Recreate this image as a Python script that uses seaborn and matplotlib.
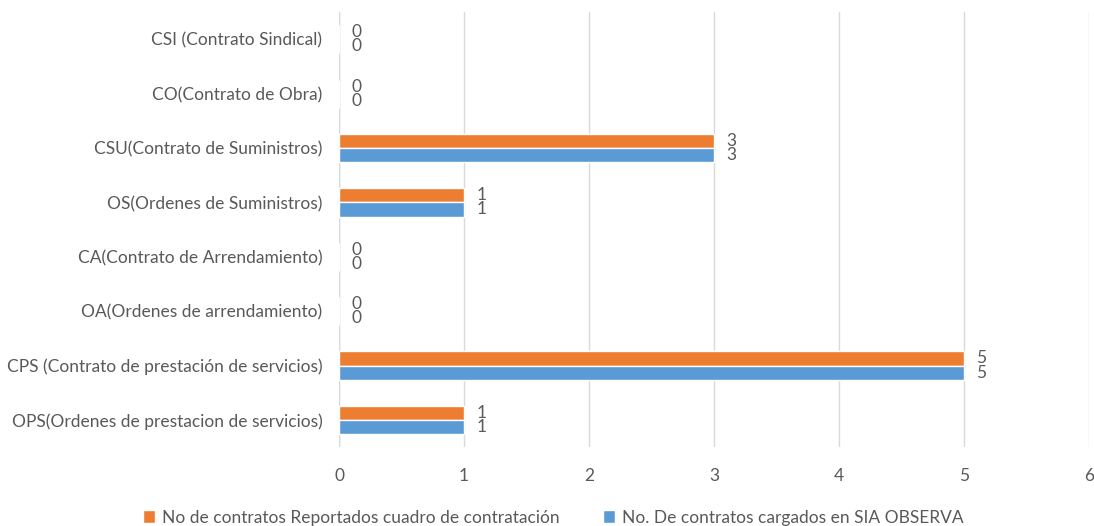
import pandas as pd
import matplotlib.pyplot as plt
import seaborn as sns

# Datos
categorias = [
    "CSI (Contrato Sindical)",
    "CO(Contrato de Obra)",
    "CSU(Contrato de Suministros)",
    "OS(Ordenes de Suministros)",
    "CA(Contrato de Arrendamiento)",
    "OA(Ordenes de arrendamiento)",
    "CPS (Contrato de prestación de servicios)",
    "OPS(Ordenes de prestacion de servicios)",
]
reportados = [0, 0, 3, 1, 0, 0, 5, 1]
cargados_sia = [0, 0, 3, 1, 0, 0, 5, 1]

serie_rep = "No de contratos Reportados cuadro de contratación"
serie_sia = "No. De contratos cargados en SIA OBSERVA"

df = pd.DataFrame({
    "categoria": categorias * 2,
    "valor": reportados + cargados_sia,
    "serie": [serie_rep] * len(categorias) + [serie_sia] * len(categorias),
})

sns.set_style("white")
plt.rcParams["font.family"] = ["Lato", "DejaVu Sans"]
gris = "#595959"
fs = 12.5

fig = plt.figure(figsize=(10.94, 5.26), dpi=100)
ax = fig.add_axes([0.31, 0.150, 0.6854, 0.827])

sns.barplot(data=df, y="categoria", x="valor", hue="serie", orient="h",
            order=categorias, hue_order=[serie_rep, serie_sia],
            palette=["#ED7D31", "#5B9BD5"], width=0.52, saturation=1,
            ax=ax)

for cont in ax.containers:
    ax.bar_label(cont, padding=9, color=gris, fontsize=fs)

ax.set_xlim(0, 6)
ax.set_xticks(range(0, 7))
ax.grid(axis="x", color="#d9d9d9", linewidth=1)
ax.set_axisbelow(True)
for s in ax.spines.values():
    s.set_visible(False)
ax.axvline(0, color="#d9d9d9", linewidth=1, zorder=0)
ax.set_xlabel("")
ax.set_ylabel("")
ax.tick_params(axis="x", colors=gris, labelsize=fs, length=0, pad=15)
ax.tick_params(axis="y", colors=gris, labelsize=fs, length=0, pad=12)

ax.legend(loc="center", bbox_to_anchor=(0.506, 0.016), bbox_transform=fig.transFigure,
          ncol=2, frameon=False, fontsize=fs, labelcolor=gris,
          handlelength=0.7, handleheight=0.7, handletextpad=0.4, columnspacing=2.5)

fig.savefig("out.png", dpi=100)
